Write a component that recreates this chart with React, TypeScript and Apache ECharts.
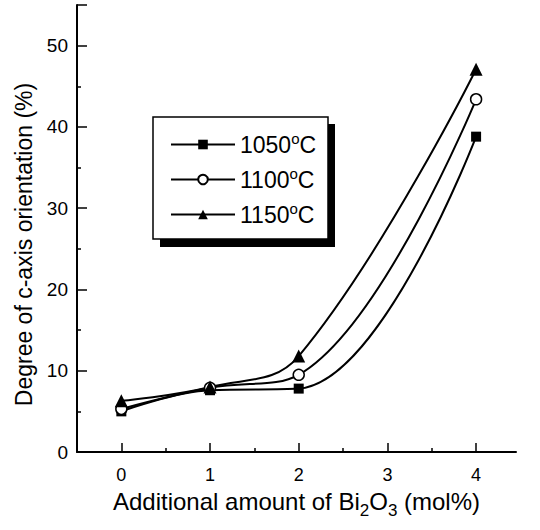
import React, { useEffect, useRef } from "react";
import * as echarts from "echarts";

const xValues = [0, 1, 2, 4];
const series1050 = [5.0, 7.6, 7.8, 38.8];
const series1100 = [5.3, 7.9, 9.5, 43.4];
const series1150 = [6.3, 8.0, 11.8, 47.1];
const seriesNames = ["1050", "1100", "1150"];
const xMajorTicks = [0, 1, 2, 3, 4];
const xMinorTicks = [0.5, 1.5, 2.5, 3.5];
const yTicks = [0, 10, 20, 30, 40, 50];

const FONT = "Liberation Sans, Arial, Helvetica, sans-serif";

export default function App() {
  const ref = useRef<HTMLDivElement>(null);
  useEffect(() => {
    if (!ref.current) return;
    const chart = echarts.init(ref.current, null, { renderer: "svg" });
    const mk = (name: string, data: number[], symbol: string, size: number, fill: string) => ({
      name,
      type: "line",
      xAxisIndex: 0,
      data: xValues.map((x, i) => [x, data[i]]),
      smooth: 0.4,
      symbol,
      symbolSize: size,
      showAllSymbol: true,
      lineStyle: { color: "#000", width: 2 },
      itemStyle: { color: fill, borderColor: "#000", borderWidth: fill === "#fff" ? 1.5 : 0 },
      z: 3,
    });
    const xBase = {
      type: "value",
      min: -0.5,
      max: 4.45,
      position: "bottom",
      splitLine: { show: false },
    };
    chart.setOption({
      animation: false,
      backgroundColor: "#fff",
      textStyle: { fontFamily: FONT, color: "#000" },
      grid: { left: 77, right: 24, top: 5, bottom: 78, containLabel: false, outerBoundsMode: "none" },
      graphic: [
        { type: "rect", shape: { x: 160, y: 124, width: 175, height: 123 }, style: { fill: "#000" }, z: 1 },
        { type: "rect", shape: { x: 153, y: 117, width: 175, height: 122 }, style: { fill: "#fff", stroke: "#000", lineWidth: 1.5 }, z: 2 },
      ],
      legend: {
        orient: "vertical",
        left: 165,
        top: 126,
        itemWidth: 64,
        itemHeight: 12,
        itemGap: 10,
        z: 10,
        data: seriesNames,
        formatter: (n: string) => `{b|${n}}{s|o}{b|C}`,
        textStyle: {
          fontFamily: FONT,
          color: "#000",
          rich: {
            b: { fontSize: 23, fontFamily: FONT, color: "#000", lineHeight: 27, verticalAlign: "middle" },
            s: { fontSize: 15, fontFamily: FONT, color: "#000", lineHeight: 15, verticalAlign: "top", padding: [0, 0, 9, 0] },
          },
        },
      },
      xAxis: [
        {
          ...xBase,
          name: "{t|Additional amount of Bi}{s|2}{t|O}{s|3}{t| (mol%)}",
          nameLocation: "middle",
          nameGap: 31,
          nameTextStyle: {
            rich: {
              t: { fontSize: 24, fontFamily: FONT, color: "#000", lineHeight: 25, verticalAlign: "middle" },
              s: { fontSize: 17, fontFamily: FONT, color: "#000", lineHeight: 36, verticalAlign: "bottom" },
            },
          },
          axisLine: { onZero: false, lineStyle: { color: "#000", width: 2 } },
          axisTick: {
            inside: true,
            length: 9,
            customValues: xMajorTicks,
            lineStyle: { color: "#000", width: 1.5 },
          },
          axisLabel: {
            fontSize: 18,
            color: "#000",
            fontFamily: FONT,
            margin: 14,
            customValues: xMajorTicks,
          },
        },
        {
          ...xBase,
          axisLine: { show: false, onZero: false },
          axisTick: {
            inside: true,
            length: 4,
            customValues: xMinorTicks,
            lineStyle: { color: "#000", width: 1.5 },
          },
          axisLabel: { show: false },
        },
      ],
      yAxis: {
        type: "value",
        min: 0,
        max: 55,
        interval: 10,
        name: "Degree of c-axis orientation (%)",
        nameLocation: "middle",
        nameGap: 40,
        nameTextStyle: { fontSize: 23, fontFamily: FONT, color: "#000", padding: [0, 32, 0, 0] },
        axisLine: { onZero: false, lineStyle: { color: "#000", width: 2 } },
        axisTick: { inside: true, length: 10, lineStyle: { color: "#000", width: 1.5 } },
        minorTick: { show: true, splitNumber: 2, length: 4, lineStyle: { color: "#000", width: 1.5 } },
        axisLabel: {
          fontSize: 19,
          color: "#000",
          fontFamily: FONT,
          margin: 9,
          showMaxLabel: false,
          formatter: (v: number) => (yTicks.includes(v) ? String(v) : ""),
        },
        splitLine: { show: false },
      },
      series: [
        mk(seriesNames[0], series1050, "rect", 10, "#000"),
        mk(seriesNames[1], series1100, "circle", 11, "#fff"),
        mk(seriesNames[2], series1150, "triangle", 13, "#000"),
      ],
    });
    return () => chart.dispose();
  }, []);
  return <div ref={ref} style={{ width: 540, height: 530, position: "absolute", left: 0, top: 0 }} />;
}
